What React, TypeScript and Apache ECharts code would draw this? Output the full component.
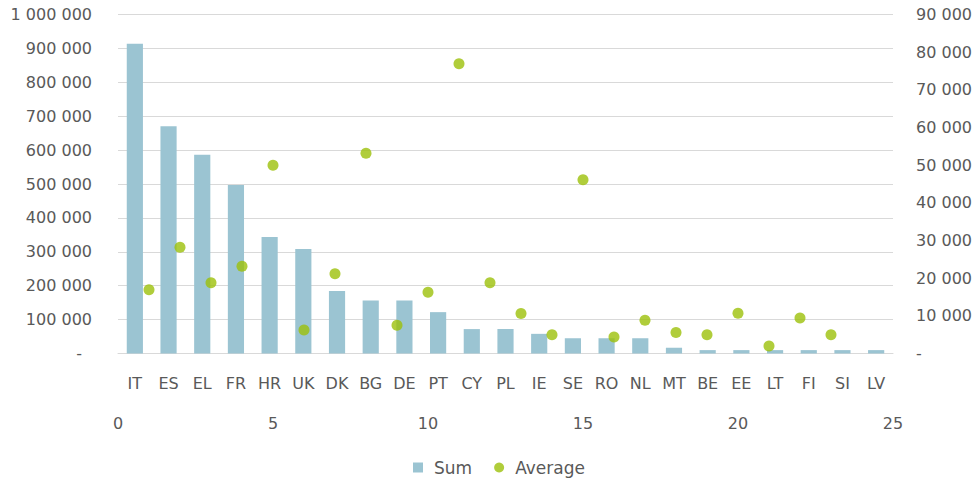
import React, { useEffect, useRef } from "react";
import * as echarts from "echarts";

const categories = ["IT", "ES", "EL", "FR", "HR", "UK", "DK", "BG", "DE", "PT", "CY", "PL", "IE", "SE", "RO", "NL", "MT", "BE", "EE", "LT", "FI", "SI", "LV"];
const sumValues = [914000, 670000, 586000, 497000, 344000, 308000, 184000, 156000, 156000, 122000, 72000, 72000, 58000, 45000, 45000, 45000, 17000, 10000, 10000, 10000, 10000, 10000, 10000];
const averagePositions = [1, 2, 3, 4, 5, 6, 7, 8, 9, 10, 11, 12, 13, 14, 15, 16, 17, 18, 19, 20, 21, 22, 23];
const averageValues = [16900, 28200, 18800, 23150, 50000, 6240, 21200, 53150, 7500, 16250, 76900, 18800, 10600, 5000, 46100, 4400, 8800, 5600, 5000, 10700, 2000, 9400, 5000];

const FONT = "DejaVu Sans";
const TEXT = "#595959";
const GRID = "#D9D9D9";

function fmt(v: number): string {
  return String(v).replace(/\B(?=(\d{3})+(?!\d))/g, " ");
}

export default function App() {
  const ref = useRef<HTMLDivElement>(null);
  useEffect(() => {
    if (!ref.current) return;
    const chart = echarts.init(ref.current, null, { renderer: "svg" });
    chart.setOption({
      animation: false,
      textStyle: { fontFamily: FONT, color: TEXT },
      grid: { left: 118, right: 86, top: 14.5, bottom: 129.5 },
      legend: {
        bottom: 2,
        left: 408,
        itemWidth: 10,
        itemHeight: 10,
        itemGap: 22,
        textStyle: { fontFamily: FONT, fontSize: 17, color: TEXT, padding: [0, 0, 0, 6] },
        data: [
          { name: "Sum", icon: "rect" },
          { name: "Average", icon: "circle" },
        ],
      },
      xAxis: [
        {
          type: "category",
          data: categories,
          position: "bottom",
          boundaryGap: true,
          axisLine: { show: true, lineStyle: { color: GRID, width: 1 } },
          axisTick: { show: false },
          axisLabel: { interval: 0, fontFamily: FONT, fontSize: 16, color: TEXT, margin: 22 },
          splitLine: { show: false },
        },
        {
          type: "value",
          position: "bottom",
          offset: 40,
          min: 0,
          max: 25,
          interval: 5,
          axisLine: { show: false },
          axisTick: { show: false },
          splitLine: { show: false },
          axisLabel: { fontFamily: FONT, fontSize: 16, color: TEXT, margin: 22 },
        },
      ],
      yAxis: [
        {
          type: "value",
          position: "left",
          min: 0,
          max: 1000000,
          interval: 100000,
          axisLine: { show: false },
          axisTick: { show: false },
          splitLine: { show: true, lineStyle: { color: GRID, width: 1 } },
          axisLabel: {
            fontFamily: FONT,
            fontSize: 16,
            color: TEXT,
            margin: 26,
            formatter: (v: number) => (v === 0 ? "{d|-}" : fmt(v)),
            rich: { d: { fontFamily: FONT, fontSize: 16, color: TEXT, padding: [0, 10, 0, 0] } },
          },
        },
        {
          type: "value",
          position: "right",
          min: 0,
          max: 90000,
          interval: 10000,
          axisLine: { show: false },
          axisTick: { show: false },
          splitLine: { show: false },
          axisLabel: {
            fontFamily: FONT,
            fontSize: 16,
            color: TEXT,
            margin: 23,
            formatter: (v: number) => (v === 0 ? "-" : fmt(v)),
          },
        },
      ],
      series: [
        {
          name: "Sum",
          type: "bar",
          xAxisIndex: 0,
          yAxisIndex: 0,
          barWidth: "48%",
          itemStyle: { color: "#9BC4D2" },
          data: sumValues,
        },
        {
          name: "Average",
          type: "scatter",
          xAxisIndex: 1,
          yAxisIndex: 1,
          symbol: "circle",
          symbolSize: 11,
          itemStyle: { color: "#9CC00A" },
          data: averagePositions.map((x, i) => [x, averageValues[i]]),
        },
      ],
    });
    return () => chart.dispose();
  }, []);
  return (
    <div
      ref={ref}
      style={{ position: "fixed", left: 0, top: 0, width: 979, height: 483, background: "#fff" }}
    />
  );
}
